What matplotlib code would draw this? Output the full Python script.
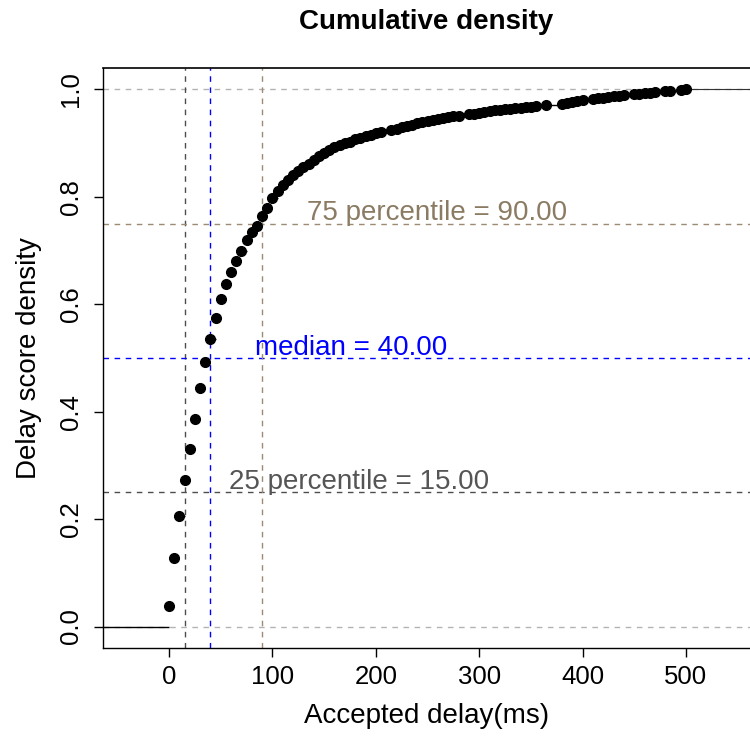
import numpy as np
import matplotlib
matplotlib.use("Agg")
import matplotlib.pyplot as plt

plt.rcParams['font.family'] = ['Liberation Sans', 'DejaVu Sans']

# ecdf of accepted delay (ms)
delay = [0, 5, 10, 15, 20, 25, 30, 35, 40, 45, 50, 55, 60, 65, 70, 75, 80, 85, 90, 95, 100,
         105, 110, 115, 120, 125, 130, 135, 140, 145, 150, 155, 160, 165, 170, 175, 180, 185,
         190, 195, 200, 205, 215, 220, 225, 230, 235, 240, 245, 250, 255, 260, 265, 270, 275,
         280, 290, 295, 300, 305, 310, 315, 320, 325, 330, 335, 340, 345, 350, 355, 365, 380,
         385, 390, 395, 400, 410, 415, 420, 425, 430, 435, 440, 450, 455, 460, 465, 470, 480,
         485, 495, 500]
density = [0.039, 0.128, 0.205, 0.272, 0.330, 0.387, 0.445, 0.492, 0.536, 0.575, 0.610, 0.637,
           0.660, 0.680, 0.700, 0.720, 0.735, 0.746, 0.764, 0.779, 0.797,
           0.811, 0.822, 0.832, 0.840, 0.848, 0.855, 0.862, 0.868, 0.876, 0.882, 0.887, 0.892,
           0.896, 0.900, 0.903, 0.907, 0.910, 0.913, 0.916, 0.918, 0.920, 0.924, 0.927, 0.930,
           0.932, 0.934, 0.937, 0.939, 0.941, 0.943, 0.945, 0.946, 0.948, 0.950, 0.951, 0.954,
           0.955, 0.957, 0.958, 0.959, 0.961, 0.962, 0.963, 0.964, 0.965, 0.966, 0.967, 0.968,
           0.969, 0.971, 0.973, 0.975, 0.976, 0.978, 0.980, 0.982, 0.984, 0.985, 0.986, 0.987,
           0.988, 0.989, 0.991, 0.992, 0.993, 0.994, 0.995, 0.997, 0.998, 0.999, 1.0]

quantiles = [0.25, 0.5, 0.75]
quant_vals = [15, 40, 90]
quant_names = ["25 percentile", "median", "75 percentile"]
line_cols = ["#4D4D4D", "#0000FF", "#9C8B72"]
text_cols = ["#555555", "#0000FF", "#8B7B63"]

fig = plt.figure(figsize=(7.5, 7.42), dpi=100)
ax = fig.add_axes([0.1373, 0.1267, 0.8627, 0.7817])
ax.set_xlim(-64, 562)
ax.set_ylim(-0.04, 1.04)

# reference lines at 0 and 1
for yv in [0, 1]:
    ax.axhline(yv, color="#B3B3B3", lw=1, ls=(0, (4, 4)), zorder=1)

# quantile lines
for q, v, c in zip(quantiles, quant_vals, line_cols):
    ax.axhline(q, color=c, lw=1, ls=(0, (4, 4)), zorder=1)
    ax.axvline(v, color=c, lw=1, ls=(0, (4, 4)), zorder=1)

# step function
x = np.array(delay)
y = np.array(density)
ax.hlines(y[:-1], x[:-1], x[1:], color="black", lw=1, zorder=2)
ax.hlines(0, -100, x[0], color="black", lw=1, zorder=2)
ax.hlines(1, x[-1], 700, color="#333333", lw=0.8, zorder=2)
ax.plot(x, y, "o", color="black", ms=7, zorder=3)

# labels sit to the right of each quantile, just above its line
for q, name, v, c in zip(quantiles, quant_names, quant_vals, text_cols):
    ax.annotate(f"{name} = {v:.2f}", xy=(v, q), xytext=(32, 7.5), textcoords="offset points",
                color=c, fontsize=20, ha="left", va="center", zorder=4)

ax.set_xticks([0, 100, 200, 300, 400, 500])
ax.set_yticks([0, 0.2, 0.4, 0.6, 0.8, 1.0])
ax.set_yticklabels(["0.0", "0.2", "0.4", "0.6", "0.8", "1.0"], rotation=90, va="center")
ax.tick_params(axis="both", labelsize=18.5, length=6.5, width=1, direction="out")
ax.tick_params(axis="x", pad=6)
ax.tick_params(axis="y", pad=8)
for s in ["top", "right"]:
    ax.spines[s].set_visible(False)
ax.spines["left"].set_linewidth(1)
ax.spines["bottom"].set_linewidth(1)
ax.axhline(1.04, color="black", lw=1.2, clip_on=False)

ax.set_xlabel("Accepted delay(ms)", fontsize=20, labelpad=10)
ax.set_ylabel("Delay score density", fontsize=20, labelpad=12)
fig.text(0.568, 0.970, "Cumulative density", fontsize=20, fontweight="bold", ha="center", va="center")

fig.savefig("out.png", dpi=100)
